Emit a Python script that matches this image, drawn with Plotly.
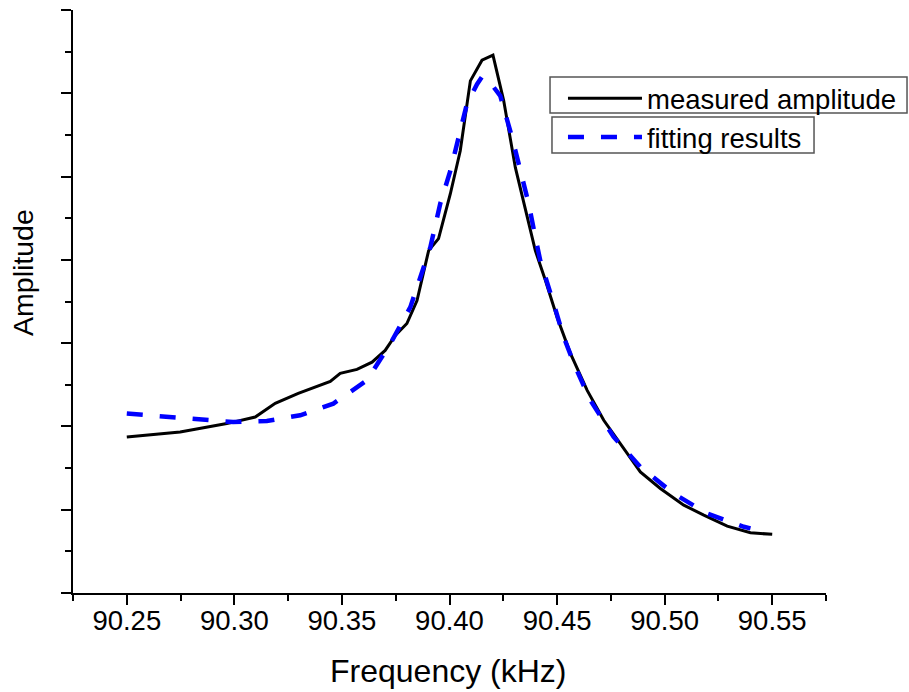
import plotly.graph_objects as go

# Measured resonance curve (frequency in kHz, amplitude in arbitrary units)
freq_measured = [90.2500, 90.2748, 90.2965, 90.3097, 90.3190, 90.3297, 90.3446, 90.3492,
                 90.3570, 90.3640, 90.3701, 90.3748, 90.3802, 90.3849, 90.3903, 90.3949,
                 90.4004, 90.4050, 90.4097, 90.4151, 90.4202, 90.4252, 90.4306, 90.4353,
                 90.4399, 90.4446, 90.4500, 90.4562, 90.4640, 90.4717, 90.4794, 90.4887,
                 90.4980, 90.5089, 90.5182, 90.5291, 90.5399, 90.5500]
amp_measured = [1.873, 1.933, 2.034, 2.113, 2.277, 2.397, 2.541, 2.637,
                2.685, 2.772, 2.913, 3.092, 3.236, 3.512, 4.111, 4.255,
                4.794, 5.310, 6.149, 6.397, 6.457, 5.909, 5.110, 4.591,
                4.111, 3.752, 3.312, 2.877, 2.433, 2.074, 1.794, 1.454,
                1.255, 1.055, 0.935, 0.803, 0.723, 0.704]

# Fitted curve
freq_fit = [90.2500, 90.2686, 90.2841, 90.2994, 90.3151, 90.3306, 90.3460, 90.3616,
            90.3725, 90.3818, 90.3911, 90.3957, 90.4004, 90.4041, 90.4081, 90.4128,
            90.4151, 90.4177, 90.4236, 90.4291, 90.4329, 90.4368, 90.4399, 90.4422,
            90.4484, 90.4531, 90.4585, 90.4655, 90.4763, 90.4887, 90.5041, 90.5198,
            90.5368, 90.5399]
amp_fit = [2.154, 2.113, 2.074, 2.053, 2.065, 2.134, 2.274, 2.553,
           2.993, 3.432, 4.151, 4.675, 5.070, 5.469, 5.873, 6.109,
           6.197, 6.169, 5.969, 5.469, 5.070, 4.675, 4.271, 3.991,
           3.476, 3.072, 2.712, 2.313, 1.873, 1.514, 1.195, 0.955,
           0.795, 0.776]

x_ticks = [90.25, 90.30, 90.35, 90.40, 90.45, 90.50, 90.55]
x_tick_labels = ["90.25", "90.30", "90.35", "90.40", "90.45", "90.50", "90.55"]

FONT = "Arial, Liberation Sans, sans-serif"

fig = go.Figure()
fig.add_trace(go.Scatter(
    x=freq_measured, y=amp_measured, mode="lines", name="measured amplitude",
    line=dict(color="black", width=3), legendgroup="g1"))
fig.add_trace(go.Scatter(
    x=freq_fit, y=amp_fit, mode="lines", name="fitting results",
    line=dict(color="#0000ff", width=4.5, dash="16px,17px"), legendgroup="g2"))

box_line = dict(color="#555555", width=1.5)

fig.update_layout(
    width=909, height=692,
    margin=dict(l=73, r=83, t=10, b=99, autoexpand=False),
    paper_bgcolor="white", plot_bgcolor="white",
    font=dict(family=FONT, color="black", size=27),
    xaxis=dict(
        range=[90.225, 90.575], showgrid=False, zeroline=False,
        showline=True, linecolor="black", linewidth=2,
        tickmode="array", tickvals=x_ticks, ticktext=x_tick_labels,
        ticks="outside", ticklen=10, tickwidth=2, tickcolor="black",
        ticklabelstandoff=-8, automargin=False,
        tickfont=dict(size=27.5, family=FONT, color="black"),
        minor=dict(tickmode="linear", tick0=90.225, dtick=0.05, ticks="outside",
                   ticklen=6, tickwidth=2, tickcolor="black", showgrid=False),
    ),
    yaxis=dict(
        range=[0, 7], showgrid=False, zeroline=False, automargin=False,
        showline=True, linecolor="black", linewidth=2,
        tickmode="linear", tick0=0, dtick=1, showticklabels=False,
        ticks="outside", ticklen=10, tickwidth=2, tickcolor="black",
        minor=dict(tickmode="linear", tick0=0.5, dtick=1, ticks="outside",
                   ticklen=6, tickwidth=2, tickcolor="black", showgrid=False),
    ),
    showlegend=True,
    legend=dict(x=0.6507, y=0.8904, xanchor="left", yanchor="top",
                borderwidth=0, bgcolor="rgba(0,0,0,0)",
                tracegroupgap=5, traceorder="normal",
                font=dict(size=27.5, family=FONT), itemwidth=74),
    shapes=[
        dict(type="rect", xref="paper", yref="paper", x0=0.6335, x1=1.1076,
             y0=0.8233, y1=0.8851, line=box_line, fillcolor="rgba(0,0,0,0)"),
        dict(type="rect", xref="paper", yref="paper", x0=0.6361, x1=0.9841,
             y0=0.7547, y1=0.8165, line=box_line, fillcolor="rgba(0,0,0,0)"),
    ],
    annotations=[
        dict(text="Frequency (kHz)", xref="paper", yref="paper", x=0.4993, y=-0.1338,
             xanchor="center", yanchor="middle", showarrow=False,
             font=dict(size=32, family=FONT, color="black")),
        dict(text="Amplitude", xref="paper", yref="paper", x=-0.0664, y=0.549,
             xanchor="center", yanchor="middle", showarrow=False, textangle=-90,
             font=dict(size=28.5, family=FONT, color="black")),
    ],
)

fig.write_html("out.html")
